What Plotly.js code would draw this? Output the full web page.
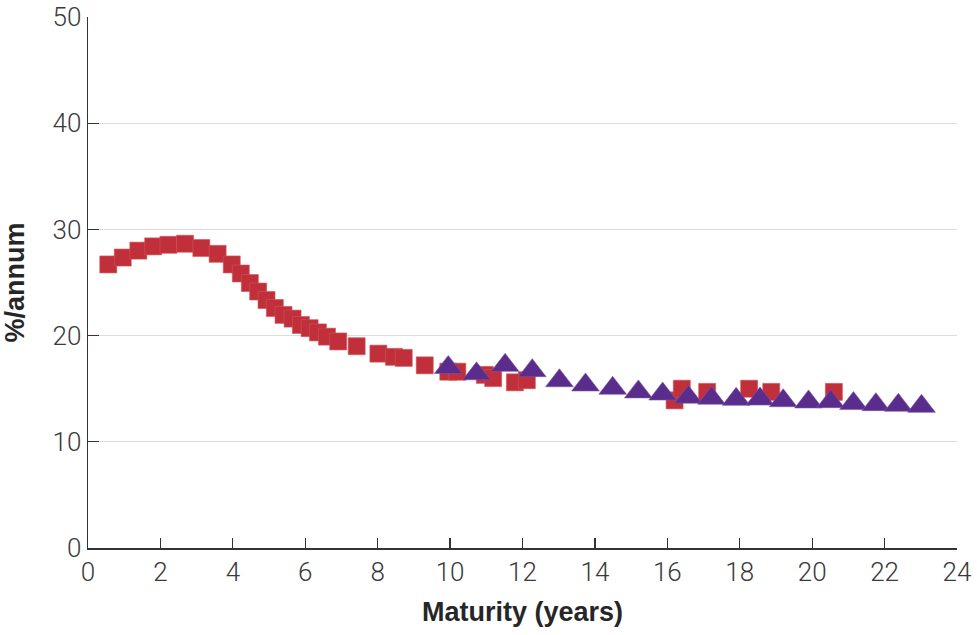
<!DOCTYPE html>
<html>
<head>
<meta charset="utf-8">
<script src="https://cdn.plot.ly/plotly-3.0.1.min.js"></script>
<style>html,body{margin:0;padding:0;background:#fff;}#chart{width:977px;height:635px;}</style>
</head>
<body>
<div id="chart"></div>
<script>
// Red squares series
const squareMaturity = [0.56, 0.96, 1.39, 1.80, 2.22, 2.68, 3.13, 3.58, 3.97, 4.22, 4.47, 4.70, 4.93, 5.16, 5.40, 5.65, 5.88, 6.12, 6.35, 6.60, 6.91, 7.42, 8.02, 8.45, 8.72, 9.30, 9.95, 10.20, 10.96, 11.19, 11.79, 12.12, 16.20, 16.40, 17.10, 18.26, 18.87, 20.60];
const squareRate =     [26.7, 27.35, 28.0, 28.4, 28.55, 28.65, 28.25, 27.7, 26.7, 25.85, 24.95, 24.15, 23.35, 22.6, 21.95, 21.6, 21.0, 20.7, 20.3, 19.9, 19.45, 19.0, 18.3, 18.0, 17.9, 17.2, 16.6, 16.6, 16.3, 16.0, 15.6, 15.8, 13.9, 15.0, 14.7, 15.0, 14.7, 14.7];
// Purple triangles series
const triangleMaturity = [9.95, 10.73, 11.52, 12.27, 13.02, 13.74, 14.49, 15.20, 15.87, 16.58, 17.22, 17.90, 18.56, 19.20, 19.90, 20.51, 21.14, 21.76, 22.38, 23.02];
const triangleRate =     [17.0, 16.4, 17.2, 16.7, 15.75, 15.35, 15.04, 14.7, 14.5, 14.2, 14.1, 14.0, 14.03, 13.87, 13.75, 13.78, 13.6, 13.5, 13.44, 13.34];
const xTicks = [0, 2, 4, 6, 8, 10, 12, 14, 16, 18, 20, 22, 24];
const yTicks = [0, 10, 20, 30, 40, 50];
const xTitle = "Maturity (years)";
const yTitle = "%/annum";

const tickFont = {family: "Roboto, 'Liberation Sans Narrow', sans-serif", size: 26, color: '#3a3a3a', weight: 300};
const titleFont = {family: "'Liberation Sans', Arial, sans-serif", size: 27, color: '#262626', weight: 'bold'};

const traces = [
  {
    x: squareMaturity, y: squareRate, type: 'scatter', mode: 'markers',
    marker: {symbol: 'square', size: 17, color: '#c1303a', line: {width: 0.6, color: '#d0545c'}},
    hoverinfo: 'x+y'
  },
  {
    x: triangleMaturity, y: triangleRate, type: 'scatter', mode: 'markers',
    marker: {symbol: 'triangle-up', size: 24, color: '#5a2d8c', line: {width: 0.6, color: '#7a55a8'}},
    hoverinfo: 'x+y'
  }
];

const layout = {
  width: 977, height: 635,
  margin: {l: 88, r: 20, t: 17, b: 87},
  paper_bgcolor: '#fff', plot_bgcolor: '#fff',
  showlegend: false,
  xaxis: {
    range: [0, 24], tickvals: xTicks, ticktext: xTicks.map(String),
    showgrid: false, zeroline: false,
    showline: true, linecolor: '#333', linewidth: 1.5,
    ticks: 'inside', ticklen: 10, tickcolor: '#333', tickwidth: 1.2,
    tickfont: tickFont,
    title: {text: xTitle, font: titleFont, standoff: 16},
    fixedrange: true
  },
  yaxis: {
    range: [0, 50], tickvals: yTicks, ticktext: yTicks.map(String),
    showgrid: true, gridcolor: '#dcdcdc', gridwidth: 1.2, zeroline: false,
    showline: true, linecolor: '#333', linewidth: 1.5,
    ticks: 'inside', ticklen: 11, tickcolor: '#333', tickwidth: 1.2,
    tickfont: tickFont,
    title: {text: yTitle, font: titleFont, standoff: 20},
    fixedrange: true
  }
};

Plotly.newPlot('chart', traces, layout, {displayModeBar: false, staticPlot: true});
</script>
</body>
</html>
